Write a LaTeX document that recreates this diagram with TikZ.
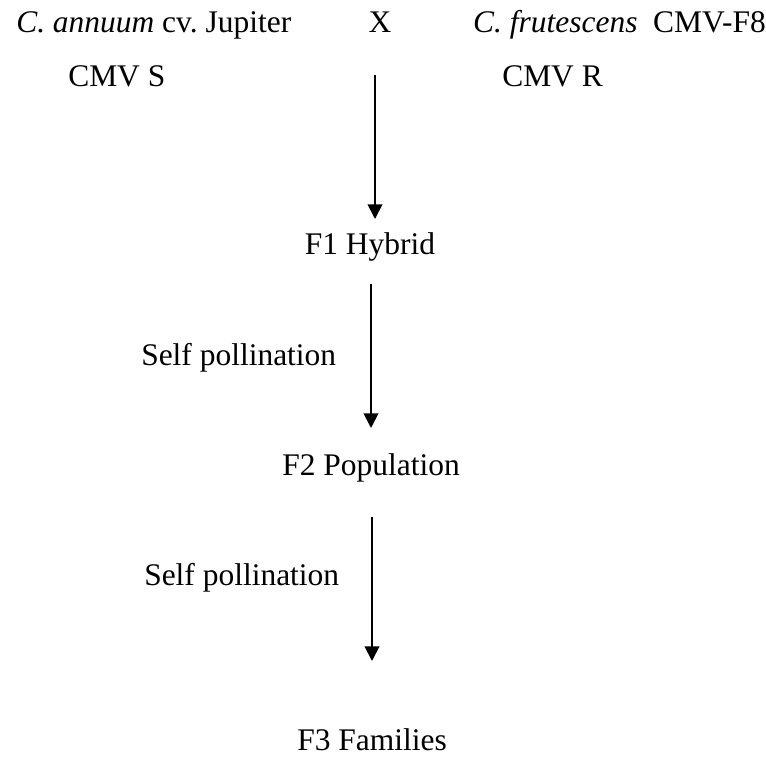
\documentclass[tikz,border=0pt]{standalone}
\usepackage{fontspec}
\setmainfont{Liberation Serif}
\frenchspacing
\usetikzlibrary{positioning,arrows.meta}
\tikzset{
    crossnode/.style={inner sep=0pt, font=\fontsize{23.6}{28}\selectfont},
    gennode/.style={crossnode, anchor=base},
    steparrow/.style={draw=black, line width=1.4pt, -{Triangle[length=11pt, width=11pt]}}
}
\begin{document}
\begin{tikzpicture}[x=0.75pt, y=-0.75pt]
    \useasboundingbox (0,0) rectangle (766,756);
    % parents
    \node[crossnode, anchor=base west] (p1) at (16,33) {\textit{C. annuum} cv. Jupiter};
    \node[gennode] (cross) at (380,33) {X};
    \node[crossnode, anchor=base east] (p2) at (766,33) {\textit{C. frutescens}\ \ CMV-F8};
    \node[crossnode, anchor=base west] (s1) at (68,87) {CMV S};
    \node[crossnode, anchor=base west] (r2) at (502,87) {CMV R};
    % generations
    \node[gennode] (f1) at (370,254) {F1 Hybrid};
    \node[gennode] (f2) at (371,475) {F2 Population};
    \node[gennode] (f3) at (372,750) {F3 Families};
    \node[crossnode, anchor=base west] (self1) at (141,365) {Self pollination};
    \node[crossnode, anchor=base west] (self2) at (144,585) {Self pollination};
    % arrows
    \coordinate (a1) at (375,75);
    \coordinate (a2) at (371,284);
    \coordinate (a3) at (372,517);
    \draw[steparrow] (a1) -- (a1 |- 0,219);
    \draw[steparrow] (a2) -- (a2 |- 0,428);
    \draw[steparrow] (a3) -- (a3 |- 0,661);
\end{tikzpicture}
\end{document}
